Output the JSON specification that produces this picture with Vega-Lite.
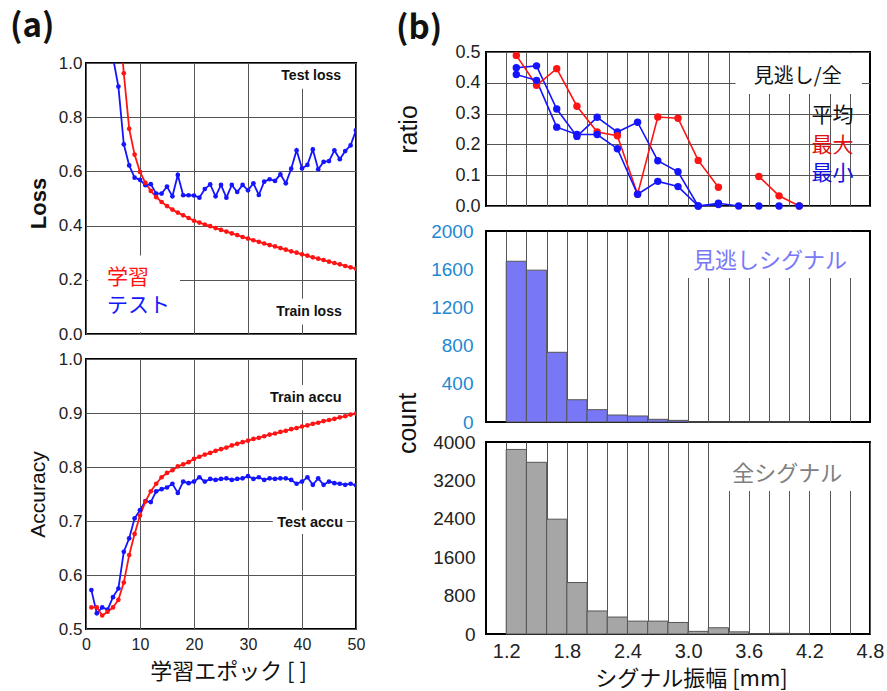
{
  "$schema": "https://vega.github.io/schema/vega-lite/v6.json",
  "background": "white",
  "padding": {"left": 10, "top": 10, "right": 0, "bottom": 0},
  "config": {
    "font": "Liberation Sans",
    "view": {"stroke": "#000", "strokeWidth": 2},
    "axis": {"domain": false, "ticks": false, "tickCount": 40, "gridColor": "#555", "gridWidth": 1, "gridOpacity": 1, "labelFont": "Liberation Sans", "labelColor": "#222", "titleFont": "Liberation Sans", "titleColor": "#111", "titleFontWeight": "normal", "labelOverlap": false, "labelFlush": false, "labelBound": false},
    "title": {"font": "Noto Sans CJK JP", "fontWeight": "bold", "fontSize": 33, "anchor": "start", "color": "#111"}
  },
  "datasets": {
    "epochs": [
      {"e":1,"s":"test","loss":2.0,"acc":0.572},{"e":2,"s":"test","loss":1.7,"acc":0.529},{"e":3,"s":"test","loss":1.45,"acc":0.540},{"e":4,"s":"test","loss":1.2,"acc":0.536},{"e":5,"s":"test","loss":1.02,"acc":0.559},
      {"e":6,"s":"test","loss":0.913,"acc":0.575},{"e":7,"s":"test","loss":0.700,"acc":0.643},{"e":8,"s":"test","loss":0.622,"acc":0.668},{"e":9,"s":"test","loss":0.577,"acc":0.705},{"e":10,"s":"test","loss":0.569,"acc":0.720},
      {"e":11,"s":"test","loss":0.549,"acc":0.737},{"e":12,"s":"test","loss":0.553,"acc":0.735},{"e":13,"s":"test","loss":0.518,"acc":0.755},{"e":14,"s":"test","loss":0.518,"acc":0.759},{"e":15,"s":"test","loss":0.544,"acc":0.762},
      {"e":16,"s":"test","loss":0.508,"acc":0.769},{"e":17,"s":"test","loss":0.587,"acc":0.752},{"e":18,"s":"test","loss":0.512,"acc":0.773},{"e":19,"s":"test","loss":0.512,"acc":0.770},{"e":20,"s":"test","loss":0.511,"acc":0.773},
      {"e":21,"s":"test","loss":0.503,"acc":0.781},{"e":22,"s":"test","loss":0.535,"acc":0.773},{"e":23,"s":"test","loss":0.552,"acc":0.778},{"e":24,"s":"test","loss":0.508,"acc":0.776},{"e":25,"s":"test","loss":0.550,"acc":0.778},
      {"e":26,"s":"test","loss":0.503,"acc":0.779},{"e":27,"s":"test","loss":0.550,"acc":0.776},{"e":28,"s":"test","loss":0.524,"acc":0.778},{"e":29,"s":"test","loss":0.550,"acc":0.779},{"e":30,"s":"test","loss":0.530,"acc":0.783},
      {"e":31,"s":"test","loss":0.556,"acc":0.778},{"e":32,"s":"test","loss":0.513,"acc":0.781},{"e":33,"s":"test","loss":0.562,"acc":0.776},{"e":34,"s":"test","loss":0.571,"acc":0.779},{"e":35,"s":"test","loss":0.565,"acc":0.778},
      {"e":36,"s":"test","loss":0.589,"acc":0.779},{"e":37,"s":"test","loss":0.556,"acc":0.779},{"e":38,"s":"test","loss":0.610,"acc":0.776},{"e":39,"s":"test","loss":0.678,"acc":0.769},{"e":40,"s":"test","loss":0.611,"acc":0.773},
      {"e":41,"s":"test","loss":0.624,"acc":0.781},{"e":42,"s":"test","loss":0.681,"acc":0.767},{"e":43,"s":"test","loss":0.608,"acc":0.779},{"e":44,"s":"test","loss":0.635,"acc":0.767},{"e":45,"s":"test","loss":0.638,"acc":0.773},
      {"e":46,"s":"test","loss":0.678,"acc":0.770},{"e":47,"s":"test","loss":0.645,"acc":0.769},{"e":48,"s":"test","loss":0.675,"acc":0.767},{"e":49,"s":"test","loss":0.696,"acc":0.769},{"e":50,"s":"test","loss":0.752,"acc":0.766},
      {"e":1,"s":"train","loss":2.5,"acc":0.540},{"e":2,"s":"train","loss":2.0,"acc":0.540},{"e":3,"s":"train","loss":1.7,"acc":0.525},{"e":4,"s":"train","loss":1.5,"acc":0.532},{"e":5,"s":"train","loss":1.35,"acc":0.540},
      {"e":6,"s":"train","loss":1.2,"acc":0.554},{"e":7,"s":"train","loss":0.962,"acc":0.586},{"e":8,"s":"train","loss":0.757,"acc":0.637},{"e":9,"s":"train","loss":0.662,"acc":0.676},{"e":10,"s":"train","loss":0.598,"acc":0.710},
      {"e":11,"s":"train","loss":0.558,"acc":0.736},{"e":12,"s":"train","loss":0.528,"acc":0.755},{"e":13,"s":"train","loss":0.505,"acc":0.769},{"e":14,"s":"train","loss":0.487,"acc":0.781},{"e":15,"s":"train","loss":0.472,"acc":0.789},
      {"e":16,"s":"train","loss":0.459,"acc":0.794},{"e":17,"s":"train","loss":0.448,"acc":0.801},{"e":18,"s":"train","loss":0.438,"acc":0.805},{"e":19,"s":"train","loss":0.428,"acc":0.809},{"e":20,"s":"train","loss":0.418,"acc":0.815},
      {"e":21,"s":"train","loss":0.411,"acc":0.819},{"e":22,"s":"train","loss":0.404,"acc":0.823},{"e":23,"s":"train","loss":0.398,"acc":0.826},{"e":24,"s":"train","loss":0.391,"acc":0.830},{"e":25,"s":"train","loss":0.384,"acc":0.833},
      {"e":26,"s":"train","loss":0.378,"acc":0.836},{"e":27,"s":"train","loss":0.371,"acc":0.840},{"e":28,"s":"train","loss":0.365,"acc":0.843},{"e":29,"s":"train","loss":0.358,"acc":0.846},{"e":30,"s":"train","loss":0.352,"acc":0.849},
      {"e":31,"s":"train","loss":0.346,"acc":0.852},{"e":32,"s":"train","loss":0.340,"acc":0.854},{"e":33,"s":"train","loss":0.334,"acc":0.857},{"e":34,"s":"train","loss":0.328,"acc":0.860},{"e":35,"s":"train","loss":0.323,"acc":0.862},
      {"e":36,"s":"train","loss":0.317,"acc":0.865},{"e":37,"s":"train","loss":0.311,"acc":0.867},{"e":38,"s":"train","loss":0.305,"acc":0.870},{"e":39,"s":"train","loss":0.300,"acc":0.872},{"e":40,"s":"train","loss":0.294,"acc":0.875},
      {"e":41,"s":"train","loss":0.289,"acc":0.877},{"e":42,"s":"train","loss":0.283,"acc":0.880},{"e":43,"s":"train","loss":0.278,"acc":0.882},{"e":44,"s":"train","loss":0.273,"acc":0.885},{"e":45,"s":"train","loss":0.267,"acc":0.887},
      {"e":46,"s":"train","loss":0.262,"acc":0.889},{"e":47,"s":"train","loss":0.257,"acc":0.892},{"e":48,"s":"train","loss":0.251,"acc":0.894},{"e":49,"s":"train","loss":0.246,"acc":0.897},{"e":50,"s":"train","loss":0.241,"acc":0.899}
    ],
    "ratio": [
      {"amp":1.3,"type":"平均","ratio":0.449},{"amp":1.5,"type":"平均","ratio":0.455},{"amp":1.7,"type":"平均","ratio":0.315},{"amp":1.9,"type":"平均","ratio":0.226},{"amp":2.1,"type":"平均","ratio":0.288},
      {"amp":2.3,"type":"平均","ratio":0.24},{"amp":2.5,"type":"平均","ratio":0.272},{"amp":2.7,"type":"平均","ratio":0.147},{"amp":2.9,"type":"平均","ratio":0.111},{"amp":3.1,"type":"平均","ratio":0.0},
      {"amp":3.3,"type":"平均","ratio":0.009},{"amp":3.5,"type":"平均","ratio":0.0},{"amp":3.7,"type":"平均","ratio":null},{"amp":3.9,"type":"平均","ratio":0.0},{"amp":4.1,"type":"平均","ratio":null},
      {"amp":1.3,"type":"最大","ratio":0.489},{"amp":1.5,"type":"最大","ratio":0.392},{"amp":1.7,"type":"最大","ratio":0.446},{"amp":1.9,"type":"最大","ratio":0.324},{"amp":2.1,"type":"最大","ratio":0.24},
      {"amp":2.3,"type":"最大","ratio":0.228},{"amp":2.5,"type":"最大","ratio":0.038},{"amp":2.7,"type":"最大","ratio":0.289},{"amp":2.9,"type":"最大","ratio":0.285},{"amp":3.1,"type":"最大","ratio":0.148},
      {"amp":3.3,"type":"最大","ratio":0.061},{"amp":3.5,"type":"最大","ratio":null},{"amp":3.7,"type":"最大","ratio":0.096},{"amp":3.9,"type":"最大","ratio":0.033},{"amp":4.1,"type":"最大","ratio":0.0},
      {"amp":1.3,"type":"最小","ratio":0.427},{"amp":1.5,"type":"最小","ratio":0.408},{"amp":1.7,"type":"最小","ratio":0.256},{"amp":1.9,"type":"最小","ratio":0.232},{"amp":2.1,"type":"最小","ratio":0.232},
      {"amp":2.3,"type":"最小","ratio":0.186},{"amp":2.5,"type":"最小","ratio":0.038},{"amp":2.7,"type":"最小","ratio":0.08},{"amp":2.9,"type":"最小","ratio":0.063},{"amp":3.1,"type":"最小","ratio":0.0},
      {"amp":3.3,"type":"最小","ratio":0.005},{"amp":3.5,"type":"最小","ratio":null},{"amp":3.7,"type":"最小","ratio":0.0},{"amp":3.9,"type":"最小","ratio":null},{"amp":4.1,"type":"最小","ratio":0.0}
    ],
    "hist": [
      {"lo":1.2,"hi":1.4,"missed":1683,"all":3845},{"lo":1.4,"hi":1.6,"missed":1590,"all":3577},{"lo":1.6,"hi":1.8,"missed":730,"all":2392},
      {"lo":1.8,"hi":2.0,"missed":233,"all":1072},{"lo":2.0,"hi":2.2,"missed":129,"all":480},{"lo":2.2,"hi":2.4,"missed":73,"all":353},
      {"lo":2.4,"hi":2.6,"missed":63,"all":268},{"lo":2.6,"hi":2.8,"missed":28,"all":268},{"lo":2.8,"hi":3.0,"missed":17,"all":240},
      {"lo":3.0,"hi":3.2,"missed":0,"all":55},{"lo":3.2,"hi":3.4,"missed":0,"all":130},{"lo":3.4,"hi":3.6,"missed":0,"all":45},
      {"lo":3.6,"hi":3.8,"missed":0,"all":5},{"lo":3.8,"hi":4.0,"missed":0,"all":15},{"lo":4.0,"hi":4.2,"missed":0,"all":5}
    ]
  },
  "columns": 2,
  "align": "none",
  "bounds": "full",
  "spacing": 28,
  "concat": [
    {
      "bounds": "flush",
      "spacing": 10,
      "vconcat": [
        {
          "width": 270, "height": 1,
          "view": {"stroke": null},
          "title": {"text": "(a)", "offset": 6, "dx": -76},
          "data": {"values": [{}]},
          "mark": {"type": "point", "opacity": 0},
          "encoding": {}
        },
        {
          "bounds": "flush",
          "spacing": 25,
          "vconcat": [
            {
              "width": 270, "height": 271,
              "layer": [
                {"data": {"values": [{}]}, "mark": {"type": "rect", "fill": "white"}, "encoding": {"x": {"datum": 0.4, "type": "quantitative"}, "x2": {"datum": 17.4}, "y": {"datum": 0.006, "type": "quantitative"}, "y2": {"datum": 0.29}}},
                {"data": {"values": [{}]}, "mark": {"type": "rect", "fill": "white"}, "encoding": {"x": {"datum": 35.3, "type": "quantitative"}, "x2": {"datum": 48.4}, "y": {"datum": 0.905, "type": "quantitative"}, "y2": {"datum": 0.995}}},
                {"data": {"values": [{}]}, "mark": {"type": "rect", "fill": "white"}, "encoding": {"x": {"datum": 34.6, "type": "quantitative"}, "x2": {"datum": 48.4}, "y": {"datum": 0.035, "type": "quantitative"}, "y2": {"datum": 0.13}}},
                {
                  "data": {"name": "epochs"},
                  "mark": {"type": "line", "strokeWidth": 1.8, "clip": true},
                  "encoding": {
                    "x": {"field": "e", "type": "quantitative", "scale": {"domain": [0, 50], "nice": false, "zero": false}, "axis": {"values": [0, 10, 20, 30, 40, 50], "tickCount": 40, "labels": false, "grid": true, "title": null}},
                    "y": {"field": "loss", "type": "quantitative", "scale": {"domain": [0, 1], "nice": false}, "axis": {"values": [0, 0.2, 0.4, 0.6, 0.8, 1.0], "tickCount": 40, "format": ".1f", "labelOverlap": false, "grid": true, "labelFontSize": 17, "labelPadding": 4, "title": "Loss", "titleFontSize": 22, "titleFontWeight": "bold", "titleX": -48, "titleY": 140, "titleBaseline": "middle", "titleAlign": "center"}},
                    "color": {"field": "s", "type": "nominal", "scale": {"domain": ["test", "train"], "range": ["#1414ff", "#ff1414"]}, "legend": null}
                  }
                },
                {
                  "data": {"name": "epochs"},
                  "mark": {"type": "circle", "size": 22, "opacity": 1, "clip": true},
                  "encoding": {
                    "x": {"field": "e", "type": "quantitative"},
                    "y": {"field": "loss", "type": "quantitative"},
                    "color": {"field": "s", "type": "nominal", "legend": null}
                  }
                },
                {"data": {"values": [{}]}, "mark": {"type": "text", "text": "Test loss", "fontWeight": "bold", "fontSize": 14, "align": "center", "baseline": "middle", "color": "#111"}, "encoding": {"x": {"datum": 41.7, "type": "quantitative"}, "y": {"datum": 0.952, "type": "quantitative"}}},
                {"data": {"values": [{}]}, "mark": {"type": "text", "text": "Train loss", "fontWeight": "bold", "fontSize": 14, "align": "center", "baseline": "middle", "color": "#111"}, "encoding": {"x": {"datum": 41.3, "type": "quantitative"}, "y": {"datum": 0.081, "type": "quantitative"}}},
                {"data": {"values": [{}]}, "mark": {"type": "text", "text": "学習", "font": "Noto Sans CJK JP", "fontSize": 21, "align": "left", "baseline": "middle", "color": "#ff1414"}, "encoding": {"x": {"datum": 3.9, "type": "quantitative"}, "y": {"datum": 0.207, "type": "quantitative"}}},
                {"data": {"values": [{}]}, "mark": {"type": "text", "text": "テスト", "font": "Noto Sans CJK JP", "fontSize": 21, "align": "left", "baseline": "middle", "color": "#1414ff"}, "encoding": {"x": {"datum": 3.9, "type": "quantitative"}, "y": {"datum": 0.103, "type": "quantitative"}}}
              ]
            },
            {
              "width": 270, "height": 270,
              "layer": [
                {"data": {"values": [{}]}, "mark": {"type": "rect", "fill": "white"}, "encoding": {"x": {"datum": 33.4, "type": "quantitative"}, "x2": {"datum": 48.8}, "y": {"datum": 0.905, "type": "quantitative"}, "y2": {"datum": 0.952}}},
                {"data": {"values": [{}]}, "mark": {"type": "rect", "fill": "white"}, "encoding": {"x": {"datum": 34.6, "type": "quantitative"}, "x2": {"datum": 48.2}, "y": {"datum": 0.676, "type": "quantitative"}, "y2": {"datum": 0.72}}},
                {
                  "data": {"name": "epochs"},
                  "mark": {"type": "line", "strokeWidth": 1.8, "clip": true},
                  "encoding": {
                    "x": {"field": "e", "type": "quantitative", "scale": {"domain": [0, 50], "nice": false, "zero": false}, "axis": {"values": [0, 10, 20, 30, 40, 50], "tickCount": 40, "labelOverlap": false, "grid": true, "labelFontSize": 16, "labelPadding": 7, "title": "学習エポック [ ]", "titleFont": "Noto Sans CJK JP", "titleFontSize": 22, "titleX": 142, "titleY": 42, "titleBaseline": "middle", "titleAlign": "center"}},
                    "y": {"field": "acc", "type": "quantitative", "scale": {"domain": [0.5, 1], "nice": false, "zero": false}, "axis": {"values": [0.5, 0.6, 0.7, 0.8, 0.9, 1.0], "tickCount": 40, "format": ".1f", "labelOverlap": false, "grid": true, "labelFontSize": 17, "labelPadding": 4, "title": "Accuracy", "titleFontSize": 21, "titleX": -48, "titleY": 135, "titleBaseline": "middle", "titleAlign": "center"}},
                    "color": {"field": "s", "type": "nominal", "scale": {"domain": ["test", "train"], "range": ["#1414ff", "#ff1414"]}, "legend": null}
                  }
                },
                {
                  "data": {"name": "epochs"},
                  "mark": {"type": "circle", "size": 22, "opacity": 1, "clip": true},
                  "encoding": {
                    "x": {"field": "e", "type": "quantitative"},
                    "y": {"field": "acc", "type": "quantitative"},
                    "color": {"field": "s", "type": "nominal", "legend": null}
                  }
                },
                {"data": {"values": [{}]}, "mark": {"type": "text", "text": "Train accu", "fontWeight": "bold", "fontSize": 14.5, "align": "center", "baseline": "middle", "color": "#111"}, "encoding": {"x": {"datum": 40.7, "type": "quantitative"}, "y": {"datum": 0.928, "type": "quantitative"}}},
                {"data": {"values": [{}]}, "mark": {"type": "text", "text": "Test accu", "fontWeight": "bold", "fontSize": 14.5, "align": "center", "baseline": "middle", "color": "#111"}, "encoding": {"x": {"datum": 41.5, "type": "quantitative"}, "y": {"datum": 0.697, "type": "quantitative"}}}
              ]
            }
          ]
        }
      ]
    },
    {
      "spacing": 5,
      "vconcat": [
        {
          "width": 384, "height": 154,
          "title": {"text": "(b)", "offset": -3, "dx": 0},
          "layer": [
            {"data": {"values": [{}]}, "mark": {"type": "rect", "fill": "white"}, "encoding": {"x": {"datum": 3.47, "type": "quantitative"}, "x2": {"datum": 4.72}, "y": {"datum": 0.364, "type": "quantitative"}, "y2": {"datum": 0.496}}},
            {
              "data": {"name": "ratio"},
              "mark": {"type": "line", "strokeWidth": 1.6},
              "encoding": {
                "x": {"field": "amp", "type": "quantitative", "scale": {"domain": [1.0, 4.8], "nice": false, "zero": false}, "axis": {"values": [1.2, 1.4, 1.6, 1.8, 2.0, 2.2, 2.4, 2.6, 2.8, 3.0, 3.2, 3.4, 3.6, 3.8, 4.0, 4.2, 4.4, 4.6], "tickCount": 40, "labels": false, "grid": true, "title": null}},
                "y": {"field": "ratio", "type": "quantitative", "scale": {"domain": [0, 0.5], "nice": false}, "axis": {"values": [0, 0.1, 0.2, 0.3, 0.4, 0.5], "tickCount": 40, "format": ".1f", "labelOverlap": false, "grid": true, "labelFontSize": 18, "labelPadding": 6, "title": "ratio", "titleFontSize": 25, "titleX": -78, "titleY": 77, "titleBaseline": "middle", "titleAlign": "center"}},
                "color": {"field": "type", "type": "nominal", "scale": {"domain": ["平均", "最大", "最小"], "range": ["#111111", "#dd1a1a", "#1a1add"]}, "legend": null}
              }
            },
            {
              "data": {"name": "ratio"},
              "mark": {"type": "circle", "size": 55, "opacity": 1},
              "encoding": {
                "x": {"field": "amp", "type": "quantitative"},
                "y": {"field": "ratio", "type": "quantitative"},
                "color": {"field": "type", "type": "nominal", "legend": null}
              }
            },
            {"data": {"values": [{}]}, "mark": {"type": "text", "text": "見逃し/全", "font": "Noto Sans CJK JP", "fontSize": 20, "align": "center", "baseline": "middle", "color": "#111"}, "encoding": {"x": {"datum": 4.085, "type": "quantitative"}, "y": {"datum": 0.419, "type": "quantitative"}}},
            {"data": {"values": [{}]}, "mark": {"type": "text", "text": "平均", "font": "Noto Sans CJK JP", "fontSize": 21, "align": "center", "baseline": "middle", "color": "#111"}, "encoding": {"x": {"datum": 4.43, "type": "quantitative"}, "y": {"datum": 0.292, "type": "quantitative"}}},
            {"data": {"values": [{}]}, "mark": {"type": "text", "text": "最大", "font": "Noto Sans CJK JP", "fontSize": 21, "align": "center", "baseline": "middle", "color": "#e01010"}, "encoding": {"x": {"datum": 4.43, "type": "quantitative"}, "y": {"datum": 0.195, "type": "quantitative"}}},
            {"data": {"values": [{}]}, "mark": {"type": "text", "text": "最小", "font": "Noto Sans CJK JP", "fontSize": 21, "align": "center", "baseline": "middle", "color": "#1010e0"}, "encoding": {"x": {"datum": 4.43, "type": "quantitative"}, "y": {"datum": 0.104, "type": "quantitative"}}}
          ]
        },
        {
          "bounds": "flush",
          "spacing": 20,
          "vconcat": [
            {
              "width": 384, "height": 191,
              "layer": [
                {
                  "data": {"name": "hist"},
                  "mark": {"type": "rect", "fill": "#7878f6", "stroke": "#555", "strokeWidth": 1},
                  "encoding": {
                    "x": {"field": "lo", "type": "quantitative", "scale": {"domain": [1.0, 4.8], "nice": false, "zero": false}, "axis": {"values": [1.2, 1.4, 1.6, 1.8, 2.0, 2.2, 2.4, 2.6, 2.8, 3.0, 3.2, 3.4, 3.6, 3.8, 4.0, 4.2, 4.4, 4.6], "tickCount": 40, "labels": false, "grid": true, "title": null}},
                    "x2": {"field": "hi"},
                    "y": {"field": "missed", "type": "quantitative", "scale": {"domain": [0, 2000], "nice": false}, "axis": {"values": [0, 400, 800, 1200, 1600, 2000], "tickCount": 40, "format": "d", "labelOverlap": false, "grid": false, "labelFontSize": 19, "labelPadding": 13, "labelColor": "#1e88d0", "title": "count", "titleFontSize": 25, "titleX": -79, "titleY": 192, "titleBaseline": "middle", "titleAlign": "center"}},
                    "y2": {"datum": 0}
                  }
                },
                {"data": {"values": [{}]}, "mark": {"type": "rect", "fill": "white"}, "encoding": {"x": {"datum": 2.93, "type": "quantitative"}, "x2": {"datum": 4.78}, "y": {"datum": 1508, "type": "quantitative"}, "y2": {"datum": 1990}}},
                {"data": {"values": [{}]}, "mark": {"type": "text", "text": "見逃しシグナル", "font": "Noto Sans CJK JP", "fontSize": 22, "align": "center", "baseline": "middle", "color": "#7878f6"}, "encoding": {"x": {"datum": 3.81, "type": "quantitative"}, "y": {"datum": 1686, "type": "quantitative"}}}
              ]
            },
            {
              "width": 384, "height": 192,
              "layer": [
                {
                  "data": {"name": "hist"},
                  "mark": {"type": "rect", "fill": "#a6a6a6", "stroke": "#555", "strokeWidth": 1},
                  "encoding": {
                    "x": {"field": "lo", "type": "quantitative", "scale": {"domain": [1.0, 4.8], "nice": false, "zero": false}, "axis": {"values": [1.2, 1.4, 1.6, 1.8, 2.0, 2.2, 2.4, 2.6, 2.8, 3.0, 3.2, 3.4, 3.6, 3.8, 4.0, 4.2, 4.4, 4.6, 4.8], "tickCount": 40, "labelExpr": "abs(datum.value*5 - round(datum.value*5)) < 0.01 && (round(datum.value*5) - 6) % 3 == 0 ? format(datum.value, '.1f') : ''", "labelOverlap": false, "grid": true, "labelFontSize": 20, "labelPadding": 7, "title": "シグナル振幅 [mm]", "titleFont": "Noto Sans CJK JP", "titleFontSize": 22, "titleX": 205, "titleY": 44, "titleBaseline": "middle", "titleAlign": "center"}},
                    "x2": {"field": "hi"},
                    "y": {"field": "all", "type": "quantitative", "scale": {"domain": [0, 4000], "nice": false}, "axis": {"values": [0, 800, 1600, 2400, 3200, 4000], "tickCount": 40, "format": "d", "labelOverlap": false, "grid": false, "labelFontSize": 19, "labelPadding": 11, "title": null}},
                    "y2": {"datum": 0}
                  }
                },
                {"data": {"values": [{}]}, "mark": {"type": "rect", "fill": "white"}, "encoding": {"x": {"datum": 3.3, "type": "quantitative"}, "x2": {"datum": 4.78}, "y": {"datum": 2980, "type": "quantitative"}, "y2": {"datum": 3980}}},
                {"data": {"values": [{}]}, "mark": {"type": "text", "text": "全シグナル", "font": "Noto Sans CJK JP", "fontSize": 22, "align": "center", "baseline": "middle", "color": "#808080"}, "encoding": {"x": {"datum": 3.98, "type": "quantitative"}, "y": {"datum": 3333, "type": "quantitative"}}}
              ]
            }
          ]
        }
      ]
    }
  ]
}
